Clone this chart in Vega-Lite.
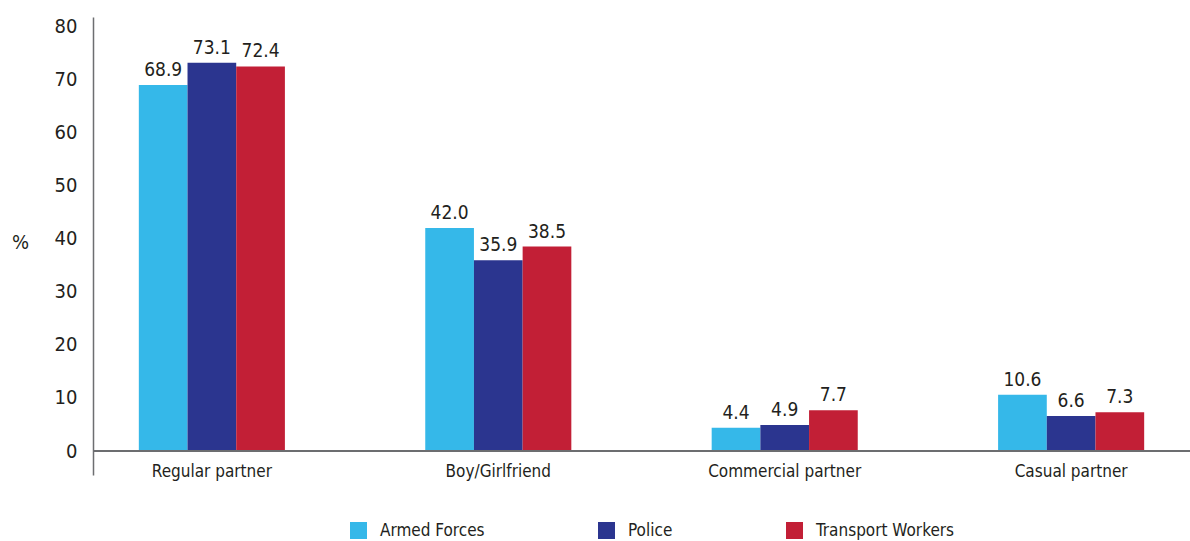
{
  "$schema": "https://vega.github.io/schema/vega-lite/v6.json",
  "width": 1097,
  "height": 458,
  "autosize": {"type": "none"},
  "padding": {"left": 93, "top": 17, "right": 0, "bottom": 66},
  "background": "white",
  "config": {
    "font": "DejaVu Sans Condensed, Roboto, sans-serif",
    "view": {"stroke": null},
    "axis": {"grid": false, "labelColor": "#231F20", "titleColor": "#231F20"}
  },
  "data": {
    "values": [
      {"type": "Regular partner", "group": "Armed Forces", "pct": 68.9},
      {"type": "Regular partner", "group": "Police", "pct": 73.1},
      {"type": "Regular partner", "group": "Transport Workers", "pct": 72.4},
      {"type": "Boy/Girlfriend", "group": "Armed Forces", "pct": 42.0},
      {"type": "Boy/Girlfriend", "group": "Police", "pct": 35.9},
      {"type": "Boy/Girlfriend", "group": "Transport Workers", "pct": 38.5},
      {"type": "Commercial partner", "group": "Armed Forces", "pct": 4.4},
      {"type": "Commercial partner", "group": "Police", "pct": 4.9},
      {"type": "Commercial partner", "group": "Transport Workers", "pct": 7.7},
      {"type": "Casual partner", "group": "Armed Forces", "pct": 10.6},
      {"type": "Casual partner", "group": "Police", "pct": 6.6},
      {"type": "Casual partner", "group": "Transport Workers", "pct": 7.3}
    ]
  },
  "layer": [
    {
      "mark": {"type": "bar"},
      "encoding": {
        "x": {
          "field": "type", "type": "nominal", "sort": null,
          "scale": {"paddingInner": 0.49, "paddingOuter": 0.16},
          "axis": {"title": null, "domain": false, "ticks": false, "labelAngle": 0, "labelFontSize": 17, "labelBaseline": "middle", "labelPadding": -4, "labelLimit": 0}
        },
        "xOffset": {"field": "group", "type": "nominal", "sort": null, "scale": {"paddingInner": 0, "paddingOuter": 0}},
        "y": {
          "field": "pct", "type": "quantitative",
          "scale": {"domain": [-4.5, 81.7], "nice": false, "zero": false},
          "axis": {
            "title": "%", "titleAngle": 0, "titleFontSize": 20, "titleFontWeight": "normal",
            "titleX": -73, "titleY": 225, "titleAlign": "center", "titleBaseline": "middle",
            "values": [0, 10, 20, 30, 40, 50, 60, 70, 80],
            "labelFontSize": 20, "labelPadding": 16, "ticks": false,
            "domainColor": "#6D6E71", "domainWidth": 1.5
          }
        },
        "color": {
          "field": "group", "type": "nominal", "sort": null,
          "scale": {"domain": ["Armed Forces", "Police", "Transport Workers"], "range": ["#35B8E9", "#2B358F", "#C21F36"]},
          "legend": {
            "title": null, "orient": "none", "direction": "horizontal",
            "legendX": 257, "legendY": 505,
            "symbolType": "square", "symbolSize": 289, "symbolStrokeWidth": 0,
            "labelFontSize": 17, "labelColor": "#231F20", "labelOffset": 13, "labelLimit": 0,
            "columnPadding": 113
          }
        }
      }
    },
    {
      "mark": {"type": "text", "baseline": "alphabetic", "dy": -9, "fontSize": 19, "color": "#231F20"},
      "encoding": {
        "x": {"field": "type", "type": "nominal", "sort": null},
        "xOffset": {"field": "group", "type": "nominal", "sort": null},
        "y": {"field": "pct", "type": "quantitative"},
        "text": {"field": "pct", "type": "quantitative", "format": ".1f"}
      }
    },
    {
      "mark": {"type": "rule", "color": "#6D6E71", "strokeWidth": 1.5},
      "encoding": {"y": {"datum": 0}}
    }
  ]
}
